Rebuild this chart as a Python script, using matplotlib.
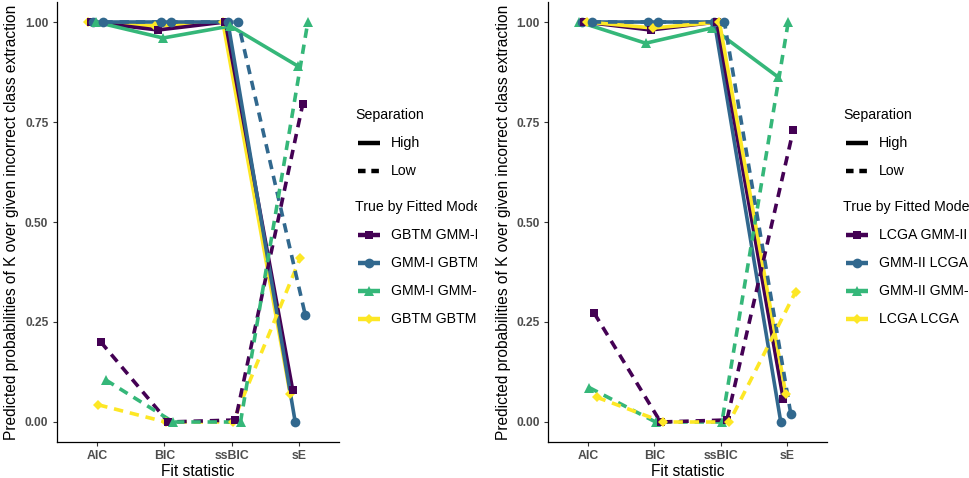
import matplotlib
matplotlib.use("Agg")
import matplotlib.pyplot as plt
import numpy as np

plt.rcParams['font.family'] = ['Liberation Sans', 'DejaVu Sans']

# ---------------- data ----------------
stats = ["AIC", "BIC", "ssBIC", "sE"]
separations = ["High", "Low"]
y_ticks = [0.0, 0.25, 0.5, 0.75, 1.0]
y_tick_labels = ["0.00", "0.25", "0.50", "0.75", "1.00"]

# left panel
left_models = ["GBTM GMM-I", "GMM-I GBTM", "GMM-I GMM-I", "GBTM GBTM"]
left_high = {
    "GBTM GMM-I": [1.00, 0.98, 1.00, 0.08],
    "GMM-I GBTM": [1.00, 1.00, 1.00, 0.00],
    "GMM-I GMM-I": [1.00, 0.96, 0.99, 0.89],
    "GBTM GBTM": [1.00, 0.99, 1.00, 0.07],
}
left_low = {
    "GBTM GMM-I": [0.20, 0.00, 0.005, 0.795],
    "GMM-I GBTM": [1.00, 1.00, 1.00, 0.267],
    "GMM-I GMM-I": [0.105, 0.00, 0.00, 1.00],
    "GBTM GBTM": [0.043, 0.00, 0.00, 0.41],
}

# right panel
right_models = ["LCGA GMM-II", "GMM-II LCGA", "GMM-II GMM-II", "LCGA LCGA"]
right_high = {
    "LCGA GMM-II": [1.00, 0.98, 1.00, 0.057],
    "GMM-II LCGA": [1.00, 1.00, 1.00, 0.00],
    "GMM-II GMM-II": [1.00, 0.947, 0.985, 0.862],
    "LCGA LCGA": [1.00, 0.985, 1.00, 0.07],
}
right_low = {
    "LCGA GMM-II": [0.272, 0.00, 0.005, 0.729],
    "GMM-II LCGA": [1.00, 1.00, 1.00, 0.021],
    "GMM-II GMM-II": [0.086, 0.00, 0.00, 1.00],
    "LCGA LCGA": [0.062, 0.00, 0.00, 0.326],
}

colors = ["#440154", "#31688E", "#35B779", "#FDE725"]
markers = ["s", "o", "^", "D"]
msizes = [6.2, 7.0, 7.6, 5.4]

W, H = 970, 478
fig = plt.figure(figsize=(W / 100, H / 100), dpi=100)

LW = 2.6
DASH = (0, (2.6, 1.9))
TICK_COLOR = "#4D4D4D"


def px_axes(x0, x1, ytop, ybot):
    return fig.add_axes([x0 / W, 1 - ybot / H, (x1 - x0) / W, (ybot - ytop) / H])


def draw_panel(ax, models, high, low):
    xs = np.arange(1, len(stats) + 1)
    # ggplot groups: ordered by separation then model name (alphabetical)
    order = sorted(models)
    groups = [(s, m) for s in separations for m in order]
    n = len(groups)
    width = 0.3
    for gi, (s, m) in enumerate(groups):
        off = -width / 2 + (gi + 0.5) * width / n
        ci = models.index(m)
        vals = (high if s == "High" else low)[m]
        ls = "-" if s == "High" else DASH
        ax.plot(xs + off, vals, color=colors[ci], lw=LW, linestyle=ls,
                zorder=2 + gi * 0.01, solid_capstyle="butt", dash_capstyle="butt")
    for gi, (s, m) in enumerate(groups):
        off = -width / 2 + (gi + 0.5) * width / n
        ci = models.index(m)
        vals = (high if s == "High" else low)[m]
        ax.plot(xs + off, vals, linestyle="none", marker=markers[ci],
                ms=msizes[ci], color=colors[ci], markeredgewidth=0,
                zorder=3 + gi * 0.01)
    ax.set_xlim(0.4, 4.6)
    ax.set_ylim(-0.05, 1.05)
    ax.set_xticks(xs)
    ax.set_xticklabels(stats, fontsize=8.8, fontweight="bold", color=TICK_COLOR)
    ax.set_yticks(y_ticks)
    ax.set_yticklabels(y_tick_labels, fontsize=8.6, fontweight="bold", color=TICK_COLOR)
    ax.tick_params(axis="both", length=3, width=0.8, color="#333333", pad=3)
    for sp in ["top", "right"]:
        ax.spines[sp].set_visible(False)
    for sp in ["left", "bottom"]:
        ax.spines[sp].set_linewidth(0.9)
        ax.spines[sp].set_color("black")
    ax.set_xlabel("Fit statistic", fontsize=11.2, labelpad=1)
    ax.set_ylabel("Predicted probabilities of K over given incorrect class extraction",
                  fontsize=11.2, labelpad=4)


def draw_legend(x0, x1, models):
    lax = px_axes(x0, x1, 0, H)
    lax.set_xlim(x0, x1)
    lax.set_ylim(H, 0)
    lax.axis("off")
    kx0, kx1 = x0 + 18, x0 + 40
    tx = x0 + 51
    fs = 10.2
    t = lax.text(x0 + 15, 115, "Separation", fontsize=fs, va="center", ha="left")
    t.set_clip_on(True)
    for i, (lab, ls) in enumerate(zip(separations, ["-", (0, (1.7, 1.3))])):
        y = 143 + i * 28
        lax.plot([kx0, kx1], [y, y], color="black", lw=3.2, linestyle=ls,
                 solid_capstyle="butt", dash_capstyle="butt")
        t = lax.text(tx, y, lab, fontsize=fs, va="center", ha="left")
        t.set_clip_on(True)
    t = lax.text(x0 + 15, 207, "True by Fitted Model", fontsize=fs, va="center", ha="left")
    t.set_clip_on(True)
    for i, m in enumerate(models):
        y = 235 + i * 28
        lax.plot([kx0, kx1], [y, y], color=colors[i], lw=3.2, solid_capstyle="butt")
        lax.plot([(kx0 + kx1) / 2], [y], marker=markers[i], ms=msizes[i],
                 color=colors[i], markeredgewidth=0, linestyle="none")
        t = lax.text(tx, y, m, fontsize=fs, va="center", ha="left")
        t.set_clip_on(True)


ax1 = px_axes(56.6, 339.4, 2, 442)
draw_panel(ax1, left_models, left_high, left_low)
draw_legend(340, 477, left_models)

ax2 = px_axes(548.2, 826.8, 2, 442)
draw_panel(ax2, right_models, right_high, right_low)
draw_legend(828, 970, right_models)

fig.savefig("out.png", dpi=100)
